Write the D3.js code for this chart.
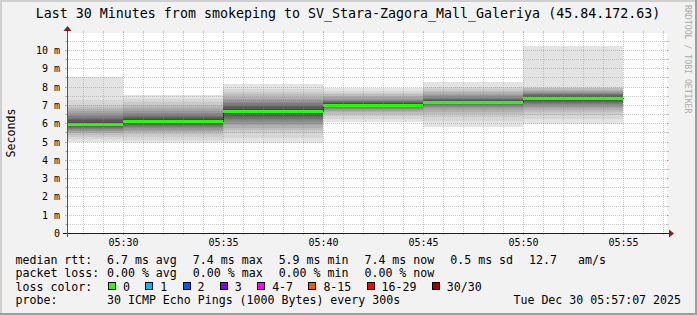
<!DOCTYPE html>
<html><head><meta charset="utf-8">
<script src="https://cdn.jsdelivr.net/npm/d3@7"></script>
<style>
html,body{margin:0;padding:0;background:#f2f2f2;overflow:hidden}
svg{display:block}
text{font-family:"DejaVu Sans Mono",monospace;white-space:pre}
</style></head><body><svg id="c" width="697" height="315"></svg>
<script>
// ---------------- data ----------------
const titleText = "Last 30 Minutes from smokeping to SV_Stara-Zagora_Mall_Galeriya (45.84.172.63)";
const yAxisTitle = "Seconds";
const watermark = "RRDTOOL / TOBI OETIKER";
const viewStart = "2025-12-30 05:27:12";
const viewEnd = "2025-12-30 05:57:12";
const intervalStarts = ["05:25", "05:30", "05:35", "05:40", "05:45", "05:50"];
const medianMs = [5.95, 6.10, 6.65, 7.02, 7.17, 7.36];
const lossCount = [0, 0, 0, 0, 0, 0];
// 30 sorted ping round-trip times (ms) per 5-minute interval
const pings0525 = [5.00, 5.12, 5.25, 5.36, 5.45, 5.52, 5.58, 5.63, 5.68, 5.73, 5.78, 5.83, 5.87, 5.90, 5.93,
                   5.97, 6.02, 6.08, 6.15, 6.22, 6.30, 6.38, 6.46, 6.55, 6.65, 6.75, 6.88, 7.02, 7.25, 8.54];
const pings0530 = [4.92, 5.10, 5.27, 5.40, 5.50, 5.58, 5.65, 5.72, 5.78, 5.84, 5.90, 5.95, 6.00, 6.04, 6.08,
                   6.12, 6.17, 6.22, 6.28, 6.35, 6.42, 6.50, 6.58, 6.67, 6.77, 6.88, 7.00, 7.15, 7.32, 7.52];
const pings0535 = [4.92, 5.20, 5.46, 5.62, 5.76, 5.88, 5.98, 6.07, 6.16, 6.25, 6.33, 6.41, 6.48, 6.55, 6.61,
                   6.67, 6.73, 6.79, 6.86, 6.93, 7.00, 7.08, 7.16, 7.25, 7.35, 7.45, 7.57, 7.70, 7.85, 8.15];
const pings0540 = [6.05, 6.25, 6.40, 6.52, 6.60, 6.67, 6.73, 6.79, 6.84, 6.88, 6.92, 6.95, 6.98, 7.00, 7.01,
                   7.03, 7.05, 7.08, 7.11, 7.15, 7.19, 7.24, 7.29, 7.35, 7.42, 7.50, 7.58, 7.66, 7.75, 7.91];
const pings0545 = [5.78, 6.10, 6.36, 6.50, 6.62, 6.72, 6.82, 6.89, 6.95, 7.00, 7.04, 7.08, 7.11, 7.13, 7.15,
                   7.17, 7.19, 7.22, 7.26, 7.30, 7.35, 7.40, 7.46, 7.52, 7.60, 7.68, 7.77, 7.88, 8.00, 8.27];
const pings0550 = [5.96, 6.25, 6.45, 6.60, 6.72, 6.82, 6.90, 6.98, 7.05, 7.12, 7.18, 7.23, 7.28, 7.31, 7.34,
                   7.38, 7.41, 7.45, 7.49, 7.53, 7.57, 7.62, 7.67, 7.72, 7.78, 7.84, 7.90, 7.95, 8.00, 10.22];
const yMaxMs = 10.93;
const yTickValues = [0, 1, 2, 3, 4, 5, 6, 7, 8, 9, 10];
const lossLevels = ["0", "1", "2", "3", "4-7", "8-15", "16-29", "30/30"];
const lossUpper = [0, 1, 2, 3, 7, 15, 29, 30];
const lossColors = ["#26ff00", "#00b8ff", "#0059ff", "#7e00ff", "#ff00ff", "#ff5500", "#ff0000", "#a10000"];
const legendRtt = ["6.7 ms avg", "7.4 ms max", "5.9 ms min", "7.4 ms now", "0.5 ms sd", "12.7   am/s"];
const legendLoss = ["0.00 % avg", "0.00 % max", "0.00 % min", "0.00 % now"];
const probeText = "30 ICMP Echo Pings (1000 Bytes) every 300s";
const dateText = "Tue Dec 30 05:57:07 2025";

// ---------------- drawing ----------------
const pings = [pings0525, pings0530, pings0535, pings0540, pings0545, pings0550];
const W = 697, H = 315;
const X0 = 67, X1 = 667, Y0 = 233, Y1 = 33;
const svg = d3.select("#c");
const parseFull = d3.timeParse("%Y-%m-%d %H:%M:%S");
const parseHM = d3.timeParse("%Y-%m-%d %H:%M");
const t0 = parseFull(viewStart), t1 = parseFull(viewEnd);
const x = d3.scaleTime().domain([t0, t1]).range([X0, X1]);
const y = d3.scaleLinear().domain([0, yMaxMs]).range([Y0, Y1]);
const starts = intervalStarts.map(s => parseHM("2025-12-30 " + s));
const ends = starts.map(s => d3.timeMinute.offset(s, 5));
const snap = v => Math.round(v) + 0.5;

// background + frame
svg.append("rect").attr("width", W).attr("height", H).attr("fill", "#f2f2f2");
svg.append("path").attr("d", `M0,0H${W}V2H2V${H}H0Z`).attr("fill", "#cfcfcf");
svg.append("path").attr("d", `M${W},${H}H0V${H-2}H${W-2}V0H${W}Z`).attr("fill", "#9e9e9e");

// canvas
svg.append("rect").attr("x", X0).attr("y", Y1).attr("width", X1 - X0).attr("height", Y0 - Y1).attr("fill", "#fff");

svg.append("defs").append("clipPath").attr("id", "plot")
  .append("rect").attr("x", X0).attr("y", Y1).attr("width", X1 - X0).attr("height", Y0 - Y1);
const plot = svg.append("g").attr("clip-path", "url(#plot)").attr("shape-rendering", "crispEdges");

// smoke
const half = 15;
pings.forEach((p, i) => {
  for (let k = 1; k <= half; k++) {
    const lo = p[k - 1], hi = p[30 - k];
    const c = Math.floor(190 / half * (half - k)) + 50;
    plot.append("rect")
      .attr("x", x(starts[i])).attr("width", x(ends[i]) - x(starts[i]))
      .attr("y", y(hi)).attr("height", y(lo) - y(hi))
      .attr("fill", d3.rgb(c, c, c));
  }
});

// median dark line
const medPts = medianMs.map((m, i) => [starts[i], m]);
medPts.push([ends[ends.length - 1], medianMs[medianMs.length - 1]]);
plot.append("path")
  .attr("d", d3.line().x(d => snap(x(d[0]) - 0.5)).y(d => snap(y(d[1]))).curve(d3.curveStepAfter)(medPts))
  .attr("fill", "none").attr("stroke", "#202020").attr("stroke-width", 1);

// loss-coloured median band
medianMs.forEach((m, i) => {
  const li = lossUpper.findIndex(u => lossCount[i] <= u);
  plot.append("rect")
    .attr("x", x(starts[i])).attr("width", x(ends[i]) - x(starts[i]))
    .attr("y", Math.round(y(m) - 1)).attr("height", 3)
    .attr("fill", lossColors[li]);
});

// grid
const grid = svg.append("g").attr("shape-rendering", "crispEdges");
const minorCol = "rgba(143,143,143,0.45)", majorCol = "rgba(222,79,79,0.4)";
const majorY = yTickValues.filter(v => v > 0);
const minorY = d3.range(0.5, yMaxMs, 1);
function hline(v, col, ext) {
  const yy = snap(y(v));
  grid.append("line").attr("x1", X0 - ext).attr("x2", X1 + ext).attr("y1", yy).attr("y2", yy)
    .attr("stroke", col).attr("stroke-dasharray", "1,1");
  grid.append("line").attr("x1", X0 - 2).attr("x2", X0).attr("y1", yy).attr("y2", yy).attr("stroke", col);
  grid.append("line").attr("x1", X1).attr("x2", X1 + 2).attr("y1", yy).attr("y2", yy).attr("stroke", col);
}
minorY.forEach(v => hline(v, minorCol, 1));
majorY.forEach(v => hline(v, majorCol, 2));

const minutes = d3.timeMinute.range(d3.timeMinute.ceil(t0), t1);
const majorT = minutes.filter(t => t.getMinutes() % 5 === 0);
const minorT = minutes.filter(t => t.getMinutes() % 5 !== 0);
function vline(t, col, ext) {
  const xx = snap(x(t));
  grid.append("line").attr("y1", Y0 + ext).attr("y2", Y1 - ext).attr("x1", xx).attr("x2", xx)
    .attr("stroke", col).attr("stroke-dasharray", "1,1");
  grid.append("line").attr("y1", Y0).attr("y2", Y0 + 2).attr("x1", xx).attr("x2", xx).attr("stroke", col);
  grid.append("line").attr("y1", Y1 - 2).attr("y2", Y1).attr("x1", xx).attr("x2", xx).attr("stroke", col);
}
minorT.forEach(t => vline(t, minorCol, 1));
majorT.forEach(t => vline(t, majorCol, 2));

// axes
const ax = svg.append("g").attr("shape-rendering", "crispEdges");
ax.append("line").attr("x1", X0 - 4).attr("x2", X1 + 4).attr("y1", Y0 + 0.5).attr("y2", Y0 + 0.5).attr("stroke", "#1f1f1f");
ax.append("line").attr("x1", X0 + 0.5).attr("x2", X0 + 0.5).attr("y1", Y0 + 4).attr("y2", Y1 - 4).attr("stroke", "#555");
svg.append("path").attr("d", `M${X1 + 2},${Y0 - 3.5}L${X1 + 2},${Y0 + 4.5}L${X1 + 7},${Y0 + 0.5}Z`).attr("fill", "#801f1f");
svg.append("path").attr("d", `M${X0 - 3.5},${Y1 - 2}L${X0 + 4.5},${Y1 - 2}L${X0 + 0.5},${Y1 - 7}Z`).attr("fill", "#801f1f");

// tick labels
const fmt = d3.timeFormat("%H:%M");
svg.selectAll(".xl").data(majorT).enter().append("text")
  .attr("x", d => x(d) + 0.5).attr("y", 245.5).attr("text-anchor", "middle")
  .attr("font-size", "10px").attr("fill", "#000").text(d => fmt(d));
svg.selectAll(".yl").data(yTickValues).enter().append("text")
  .attr("x", 60).attr("y", d => snap(y(d)) + 3.5).attr("text-anchor", "end")
  .attr("font-size", "10px").attr("fill", "#000").text(d => d === 0 ? "0" : d + " m");

// titles
svg.append("text").attr("x", 348).attr("y", 18).attr("text-anchor", "middle")
  .attr("font-size", "13.3px").attr("fill", "#000").text(titleText);
svg.append("text").attr("transform", `translate(14.5,${(Y0 + Y1) / 2}) rotate(-90)`)
  .attr("text-anchor", "middle").attr("font-size", "11.6px").attr("fill", "#000").text(yAxisTitle);
svg.append("text").attr("transform", "translate(685,5) rotate(90)")
  .attr("font-size", "8.2px").attr("fill", "#aaaaaa").text(watermark);

// legend
const LF = "11.6px";
function lab(txt, xx, yy, anchor) {
  return svg.append("text").attr("x", xx).attr("y", yy).attr("font-size", LF)
    .attr("text-anchor", anchor || "start").attr("fill", "#000").text(txt);
}
function flow(items, yy) {
  let xx = 107;
  items.forEach(s => {
    const t = lab(s, xx, yy);
    xx += t.node().getComputedTextLength() + 16;
  });
}
lab("median rtt:", 15.5, 263.5); flow(legendRtt, 263.5);
lab("packet loss:", 15.5, 277); flow(legendLoss, 277);
lab("loss color:", 15.5, 290.5);
let bx = 108;
lossLevels.forEach((l, i) => {
  svg.append("rect").attr("x", bx + 0.5).attr("y", 282.5).attr("width", 7).attr("height", 7)
    .attr("fill", lossColors[i]).attr("stroke", "#000").attr("shape-rendering", "crispEdges");
  const t = lab(l, bx + 15, 290.5);
  bx = bx + 15 + t.node().getComputedTextLength() + 15.3;
});
lab("probe:", 15.5, 304); lab(probeText, 107, 304);
lab(dateText, 681, 304, "end");
</script></body></html>
